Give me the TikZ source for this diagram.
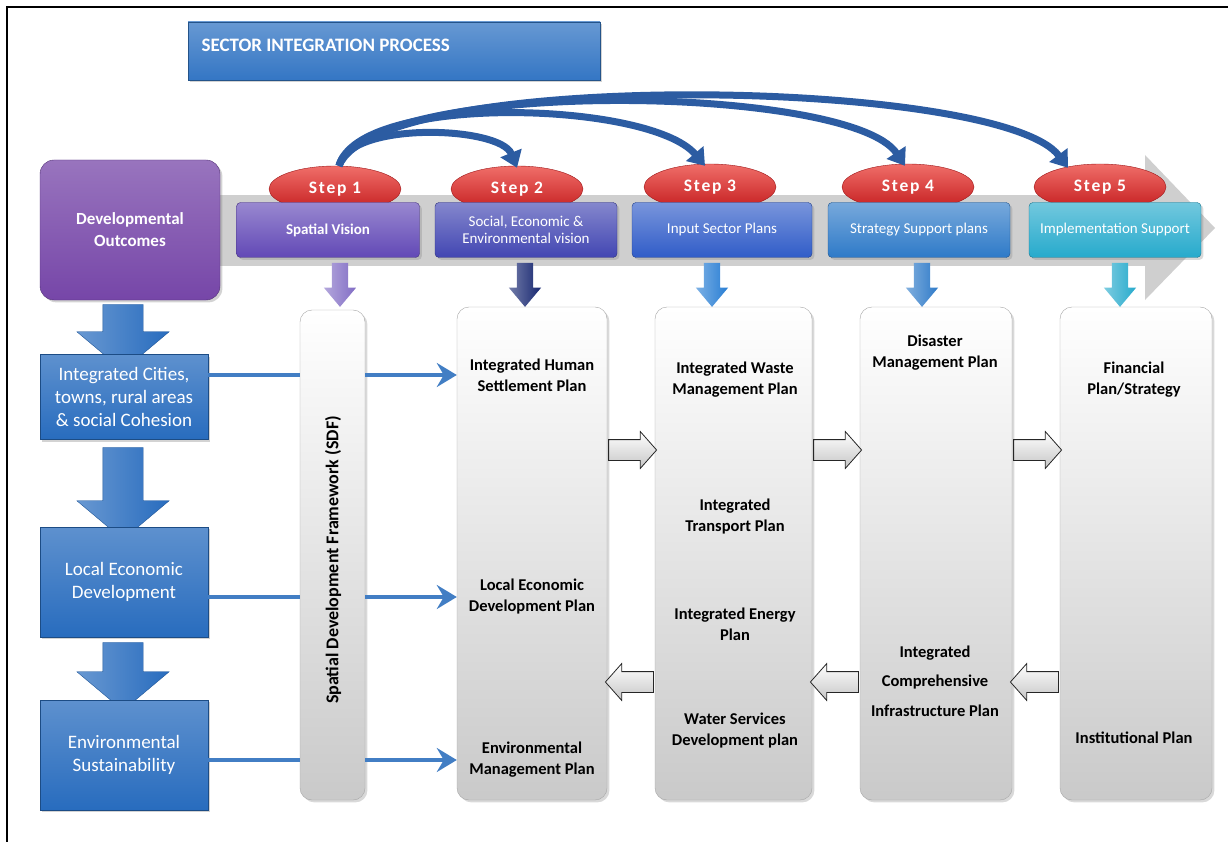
\documentclass[tikz,border=0pt]{standalone}
\usepackage{fontspec}
\setmainfont{Carlito}
\usetikzlibrary{arrows.meta,positioning,shapes.geometric,shapes.arrows,shadows}
\definecolor{titleblue}{RGB}{52,118,196}
\definecolor{devpurple}{RGB}{118,70,168}
\definecolor{svpurple}{RGB}{98,72,182}
\definecolor{seindigo}{RGB}{66,70,178}
\definecolor{ispblue}{RGB}{48,92,200}
\definecolor{sspblue}{RGB}{46,122,200}
\definecolor{imcyan}{RGB}{38,170,204}
\definecolor{leftblue}{RGB}{40,108,190}
\definecolor{stepred}{RGB}{196,28,30}
\definecolor{stephi}{RGB}{240,110,105}
\definecolor{curveblue}{RGB}{44,92,162}
\definecolor{lineblue}{RGB}{66,126,196}
\definecolor{navyarrow}{RGB}{22,38,112}

\begin{document}
\begin{tikzpicture}[x=1pt,y=-1pt,
  stepoval/.style={ellipse, minimum width=132pt, minimum height=46pt, inner sep=0pt,
    top color=stephi, bottom color=stepred, draw=stepred!80!black, text=white,
    font=\fontsize{17.5}{19}\selectfont\bfseries\addfontfeatures{LetterSpace=10}},
  stepbox/.style={rectangle, rounded corners=4pt, minimum height=55pt, inner sep=2pt,
    text=white, align=center, font=\fontsize{15}{17}\selectfont,
    draw=#1!70!black, top color=#1!65!white, bottom color=#1, drop shadow={opacity=0.3}},
  leftbox/.style={rectangle, minimum width=168pt, inner sep=2pt, text=white, align=center,
    font=\fontsize{19}{23}\selectfont, draw=leftblue!70!black,
    top color=leftblue!75!white, bottom color=leftblue, drop shadow={opacity=0.35}},
  plancol/.style={rectangle, rounded corners=12pt, minimum height=493pt, inner sep=0pt,
    draw=gray!70, top color=white, bottom color=gray!42, drop shadow={opacity=0.3}},
  plantxt/.style={align=center, font=\fontsize{16.5}{21}\selectfont\bfseries},
  smalldown/.style={single arrow, rotate=-90, minimum height=44pt,
    inner xsep=0pt, inner ysep=8pt, single arrow head extend=8pt, single arrow tip angle=80,
    left color=#1!60!white, right color=#1, draw=none},
  bigdown/.style={single arrow, rotate=-90, inner xsep=0pt, inner ysep=20pt,
    single arrow head extend=26pt, single arrow tip angle=100,
    left color=leftblue!70!white, right color=leftblue, draw=leftblue!80!black},
  hollow/.style={single arrow, minimum height=48pt, inner xsep=0pt, inner ysep=10pt,
    single arrow head extend=8pt, single arrow tip angle=97,
    top color=white, bottom color=gray!45, draw=gray!30!black, line width=0.8pt},
  feed/.style={draw=lineblue, line width=4pt},
  loop/.style={draw=curveblue, line width=7pt, -{Triangle[length=16pt,width=22pt]}}
]
\useasboundingbox (0,0) rectangle (1228,842);
% frame
\draw[line width=2pt] (7,842) -- (7,7) -- (1228,7);

% title
\node[rectangle, minimum width=412pt, minimum height=58pt, top color=titleblue!75!white,
  bottom color=titleblue, draw=titleblue!70!black, drop shadow={opacity=0.35}] (title) at (394,51) {};
\node[anchor=west, text=white, font=\fontsize{19}{20}\selectfont\bfseries] (titletxt) at (198,45) {SECTOR INTEGRATION PROCESS};

% grey band behind the steps
\fill[gray!38] (200,195) rectangle (1146,266);
\fill[gray!38] (1145,155) -- (1215,228) -- (1145,300) -- cycle;

% left column arrows (behind the boxes)
\node[bigdown, minimum height=66pt] (dn1) at (123,329) {};
\node[bigdown, minimum height=92pt] (dn2) at (123,485) {};
\node[bigdown, minimum height=68pt] (dn3) at (123,668) {};

% left column
\node[rectangle, rounded corners=14pt, minimum width=180pt, minimum height=140pt,
  top color=devpurple!75!white, bottom color=devpurple, draw=devpurple!70!black,
  text=white, align=center, font=\fontsize{17}{22}\selectfont\bfseries,
  drop shadow={opacity=0.35}] (devout) at (130,230) {Developmental\\Outcomes};
\node[leftbox, minimum height=85pt] (cities) at (124,397) {Integrated Cities,\\towns, rural areas\\\& social Cohesion};
\node[leftbox, minimum height=110pt] (led) at (124,582) {Local Economic\\Development};
\node[leftbox, minimum height=110pt] (envs) at (124,755) {Environmental\\Sustainability};

% step ovals
\node[stepoval] (step1) at (335,189) {Step 1};
\node[stepoval] (step2) at (517,189) {Step 2};
\node[stepoval] (step3) at (710,187) {Step 3};
\node[stepoval] (step4) at (908,187) {Step 4};
\node[stepoval] (step5) at (1100,187) {Step 5};

% step boxes
\node[stepbox=svpurple, minimum width=183pt, font=\fontsize{15}{17}\selectfont\bfseries] (sv) at (328,230) {Spatial Vision};
\node[stepbox=seindigo, minimum width=182pt] (sev) at (526,230) {Social, Economic \&\\Environmental vision};
\node[stepbox=ispblue, minimum width=180pt] (isp) at (722,230) {Input Sector Plans};
\node[stepbox=sspblue, minimum width=182pt] (ssp) at (919,230) {Strategy Support plans};
\node[stepbox=imcyan, minimum width=172pt] (ims) at (1115,230) {Implementation Support};

% arrows down from the steps
\node[smalldown=svpurple!80!white] (a1) at (340,280) {};
\node[smalldown=navyarrow] (a2) at (525,280) {};
\node[smalldown=ispblue!80!cyan] (a3) at (712,280) {};
\node[smalldown=sspblue] (a4) at (922,280) {};
\node[smalldown=imcyan] (a5) at (1120,280) {};

% step 1 feeds the later steps
\draw[loop] ([xshift=4pt]step1.north) .. controls +(10,-45) and +(-17,-42) .. ([yshift=-2pt]step2.north);
\draw[loop] ([xshift=4pt]step1.north) .. controls +(20,-73) and +(-55,-65) .. ([xshift=-5pt,yshift=-2pt]step3.north);
\draw[loop] ([xshift=4pt]step1.north) .. controls +(30,-88) and +(-55,-82) .. ([xshift=-3pt,yshift=-2pt]step4.north);
\draw[loop] ([xshift=4pt]step1.north) .. controls +(40,-98) and +(-68,-90) .. ([xshift=-32pt,yshift=-4pt]step5.north);

% plan columns
\node[plancol, minimum width=65pt, minimum height=490pt] (sdf) at (332.5,555) {};
\node[rotate=90, font=\fontsize{18}{20}\selectfont\bfseries] (sdftxt) at (333,560) {Spatial Development Framework (SDF)};
\node[plancol, minimum width=150pt] (col2) at (532,553.5) {};
\node[plancol, minimum width=157pt] (col3) at (733.5,553.5) {};
\node[plancol, minimum width=152pt] (col4) at (936,553.5) {};
\node[plancol, minimum width=152pt] (col5) at (1136,553.5) {};

\node[plantxt] (hsp) at (532,375) {Integrated Human\\Settlement Plan};
\node[plantxt] (ledp) at (532,597) {Local Economic\\Development Plan};
\node[plantxt] (emp) at (532,760) {Environmental\\Management Plan};
\node[plantxt] (iwmp) at (735,380) {Integrated Waste\\Management Plan};
\node[plantxt] (itp) at (735,517) {Integrated\\Transport Plan};
\node[plantxt] (iep) at (735,624) {Integrated Energy\\Plan};
\node[plantxt] (wsdp) at (735,731) {Water Services\\Development plan};
\node[plantxt] (dmp) at (935,353) {Disaster\\Management Plan};
\node[plantxt, font=\fontsize{16.5}{29.5}\selectfont\bfseries] (icip) at (935,681) {Integrated\\Comprehensive\\Infrastructure Plan};
\node[plantxt] (fps) at (1134,380) {Financial\\Plan/Strategy};
\node[plantxt] (inst) at (1134,738) {Institutional Plan};

% outcomes into the SDF and step 2
\draw[feed] (cities.east |- hsp) -- (sdf.west |- hsp);
\draw[feed, -{Stealth[length=20pt,width=24pt,inset=7pt]}] (sdf.east |- hsp) -- (col2.west |- hsp);
\draw[feed] (led.east |- ledp) -- (sdf.west |- ledp);
\draw[feed, -{Stealth[length=20pt,width=24pt,inset=7pt]}] (sdf.east |- ledp) -- (col2.west |- ledp);
\draw[feed] (envs.east |- emp) -- (sdf.west |- emp);
\draw[feed, -{Stealth[length=20pt,width=24pt,inset=7pt]}] (sdf.east |- emp) -- (col2.west |- emp);

% forward and backward flow between columns
\node[hollow] (fw1) at (628,450) {};
\node[hollow] (fw2) at (833,450) {};
\node[hollow] (fw3) at (1033,450) {};
\node[hollow, shape border rotate=180] (bw1) at (634,682) {};
\node[hollow, shape border rotate=180] (bw2) at (839,682) {};
\node[hollow, shape border rotate=180] (bw3) at (1039,682) {};
\end{tikzpicture}
\end{document}
